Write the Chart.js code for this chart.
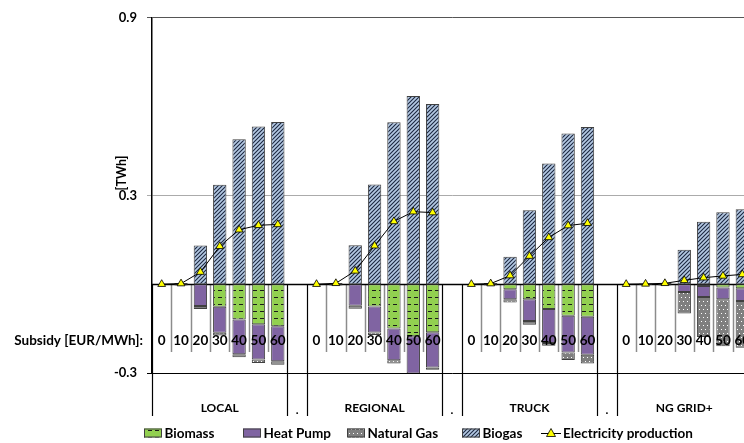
<!DOCTYPE html>
<html>
<head>
<meta charset="utf-8">
<script src="https://cdn.jsdelivr.net/npm/chart.js@4.4.1/dist/chart.umd.min.js"></script>
<style>
  html, body { margin: 0; padding: 0; background: #fff; overflow: hidden; }
  #wrap { width: 800px; height: 443px; }
</style>
</head>
<body>
<div id="wrap"><canvas id="chartBiogas" width="800" height="443"></canvas></div>
<script>
// Datos (TWh) - una fila por grupo, subsidio 0..60
const grupos = ["LOCAL", "REGIONAL", "TRUCK", "NG GRID+"];
const subsidios = ["0", "10", "20", "30", "40", "50", "60"];
const yTicks = [-0.3, 0.3, 0.9];

const biomass = [
  null, null, null, -0.076, -0.119, -0.135, -0.142,
  null, null, null, -0.075, -0.150, -0.176, -0.162,
  null, null, -0.017, -0.051, -0.084, -0.107, -0.110,
  null, null, null, null, -0.006, -0.011, -0.014,
];
const heatPump = [
  null, null, -0.074, -0.088, -0.118, -0.119, -0.118,
  null, null, -0.073, -0.088, -0.107, -0.126, -0.119,
  null, null, -0.034, -0.073, -0.115, -0.124, -0.128,
  null, null, null, -0.026, -0.037, -0.040, -0.043,
];
const naturalGas = [
  null, -0.004, -0.010, -0.009, -0.010, -0.012, -0.012,
  null, -0.004, -0.010, -0.009, -0.011, -0.010, -0.008,
  null, -0.004, -0.011, -0.013, -0.009, -0.025, -0.030,
  null, -0.003, -0.004, -0.073, -0.135, -0.159, -0.158,
];
const biogas = [
  null, 0.004, 0.131, 0.336, 0.490, 0.533, 0.548,
  null, 0.004, 0.132, 0.337, 0.547, 0.636, 0.609,
  null, 0.004, 0.093, 0.250, 0.408, 0.509, 0.531,
  null, 0.002, 0.004, 0.116, 0.211, 0.243, 0.253,
];
const electricity = [
  0, 0.002, 0.041, 0.128, 0.184, 0.199, 0.202,
  0, 0.003, 0.045, 0.130, 0.212, 0.245, 0.242,
  0, 0.002, 0.029, 0.095, 0.158, 0.198, 0.206,
  0, 0.001, 0.003, 0.013, 0.022, 0.028, 0.033,
];

// Etiquetas del eje: cada grupo + separador "."
const etiquetas = [];
grupos.forEach((g, i) => {
  etiquetas.push(...subsidios);
  if (i < grupos.length - 1) etiquetas.push(".");
});

// Inserta null en los separadores
function expandir(arr) {
  const out = [];
  grupos.forEach((g, i) => {
    out.push(...arr.slice(i * 7, i * 7 + 7));
    if (i < grupos.length - 1) out.push(null);
  });
  return out;
}

// Patrones de relleno
function patron(w, h, fondo, dibujar) {
  const c = document.createElement("canvas");
  c.width = w;
  c.height = h;
  const g = c.getContext("2d");
  g.fillStyle = fondo;
  g.fillRect(0, 0, w, h);
  dibujar(g);
  return g.createPattern(c, "repeat");
}
const ctxMain = document.getElementById("chartBiogas").getContext("2d");
const pBiomass = patron(7, 7, "#92D050", (g) => {
  g.fillStyle = "#1a1a1a";
  g.fillRect(1, 3, 4, 1);
});
const pGas = patron(8, 8, "#7f7f7f", (g) => {
  g.fillStyle = "#ffffff";
  g.fillRect(1, 1, 1, 1);
  g.fillRect(5, 1, 1, 1);
  g.fillRect(3, 5, 1, 1);
  g.fillRect(7, 5, 1, 1);
});
const pBiogas = patron(4, 4, "#B4C9E3", (g) => {
  g.strokeStyle = "#1c2740";
  g.lineWidth = 1.1;
  g.beginPath();
  g.moveTo(0, 4);
  g.lineTo(4, 0);
  g.moveTo(-1, 1);
  g.lineTo(1, -1);
  g.moveTo(3, 5);
  g.lineTo(5, 3);
  g.stroke();
});

const FUENTE = "Lato";
Chart.defaults.font.family = FUENTE;
Chart.defaults.font.weight = "bold";
Chart.defaults.color = "#000";

// Dibujos extra: separadores, eje cero, etiquetas y leyenda
const decorado = {
  id: "decorado",
  beforeDatasetsDraw(chart) {
    const { ctx, scales: { x, y } } = chart;
    const y0 = y.getPixelForValue(0);
    const w = x.getPixelForValue(1) - x.getPixelForValue(0);
    const x0 = x.getPixelForValue(0) - w / 2;
    ctx.save();
    for (let i = 0; i <= etiquetas.length; i++) {
      const px = Math.round(x0 + i * w) + 0.5;
      const esGrupo =
        i === 0 || i === etiquetas.length ||
        etiquetas[i] === "." || etiquetas[i - 1] === ".";
      ctx.beginPath();
      if (esGrupo) {
        ctx.strokeStyle = "#000";
        ctx.lineWidth = 1.2;
        ctx.moveTo(px, y0);
        ctx.lineTo(px, 416);
      } else {
        ctx.strokeStyle = "#8c8c8c";
        ctx.lineWidth = 1.5;
        ctx.moveTo(px, y0);
        ctx.lineTo(px, 352);
      }
      ctx.stroke();
    }
    ctx.beginPath();
    ctx.strokeStyle = "#000";
    ctx.lineWidth = 1.3;
    ctx.moveTo(chart.chartArea.left, Math.round(y0) + 0.5);
    ctx.lineTo(chart.chartArea.right, Math.round(y0) + 0.5);
    ctx.stroke();
    ctx.restore();
  },
  afterDraw(chart) {
    const { ctx, scales: { x } } = chart;
    ctx.save();
    ctx.fillStyle = "#000";
    ctx.textBaseline = "middle";
    // titulo eje y
    ctx.save();
    ctx.translate(122, 173);
    ctx.rotate(-Math.PI / 2);
    ctx.textAlign = "center";
    ctx.font = "bold 12.5px " + FUENTE;
    ctx.fillText("[TWh]", 0, 0);
    ctx.restore();
    // subsidios
    ctx.font = "bold 13.5px " + FUENTE;
    ctx.textAlign = "center";
    etiquetas.forEach((t, i) => {
      if (t !== ".") ctx.fillText(t, x.getPixelForValue(i), 341);
    });
    ctx.textAlign = "right";
    ctx.fillText("Subsidy [EUR/MWh]:", 143, 341);
    // grupos
    ctx.font = "bold 12px " + FUENTE;
    ctx.textAlign = "center";
    let ini = 0;
    grupos.forEach((g, i) => {
      const cx = (x.getPixelForValue(ini) + x.getPixelForValue(ini + 6)) / 2;
      ctx.fillText(g, cx, 408);
      if (i < grupos.length - 1) ctx.fillText(".", x.getPixelForValue(ini + 7), 410);
      ini += 8;
    });
    // leyenda
    const posLeyenda = [144, 243, 347, 462, 541];
    const ly = 433;
    ctx.font = "bold 13.5px " + FUENTE;
    ctx.textAlign = "left";
    chart.data.datasets.forEach((ds, i) => {
      const lx = posLeyenda[i];
      if (ds.type === "line") {
        ctx.beginPath();
        ctx.strokeStyle = "#000";
        ctx.lineWidth = 1;
        ctx.moveTo(lx, ly + 0.5);
        ctx.lineTo(lx + 20, ly + 0.5);
        ctx.stroke();
        ctx.beginPath();
        ctx.moveTo(lx + 10, ly - 4.5);
        ctx.lineTo(lx + 14.5, ly + 3.5);
        ctx.lineTo(lx + 5.5, ly + 3.5);
        ctx.closePath();
        ctx.fillStyle = "#FFFF00";
        ctx.fill();
        ctx.strokeStyle = "#000";
        ctx.lineWidth = 0.8;
        ctx.stroke();
        ctx.fillStyle = "#000";
        ctx.fillText(ds.label, lx + 22, ly + 0.5);
      } else {
        ctx.fillStyle = ds.backgroundColor;
        ctx.fillRect(lx, ly - 4.5, 18, 9);
        ctx.strokeStyle = "#404040";
        ctx.lineWidth = 1;
        ctx.strokeRect(lx + 0.5, ly - 4, 17, 8);
        ctx.fillStyle = "#000";
        ctx.fillText(ds.label, lx + 20.5, ly + 0.5);
      }
    });
    ctx.restore();
  },
};

const barra = {
  type: "bar",
  borderColor: "#404040",
  borderWidth: 1,
  borderSkipped: false,
  barPercentage: 0.69,
  categoryPercentage: 1,
  clip: 0,
};

new Chart(ctxMain, {
  data: {
    labels: etiquetas,
    datasets: [
      { ...barra, label: "Biomass", data: expandir(biomass), backgroundColor: pBiomass },
      { ...barra, label: "Heat Pump", data: expandir(heatPump), backgroundColor: "#8064A2" },
      { ...barra, label: "Natural Gas", data: expandir(naturalGas), backgroundColor: pGas },
      { ...barra, label: "Biogas", data: expandir(biogas), backgroundColor: pBiogas },
      {
        type: "line",
        label: "Electricity production",
        data: expandir(electricity),
        stack: "elec",
        order: -1,
        borderColor: "#000",
        borderWidth: 1,
        spanGaps: false,
        pointStyle: "triangle",
        pointRadius: 4.5,
        pointBackgroundColor: "#FFFF00",
        pointBorderColor: "#000",
        pointBorderWidth: 0.8,
        clip: false,
      },
    ],
  },
  options: {
    responsive: false,
    animation: false,
    events: [],
    layout: { padding: { top: 17, right: 48, bottom: 70, left: 0 } },
    plugins: { legend: { display: false }, tooltip: { enabled: false } },
    scales: {
      x: { stacked: true, display: false },
      y: {
        stacked: true,
        min: -0.3,
        max: 0.9,
        afterBuildTicks: (s) => { s.ticks = yTicks.map((v) => ({ value: v })); },
        afterFit: (s) => { s.width = 152; },
        ticks: {
          padding: 10,
          font: { size: 13, weight: "bold" },
          callback: (v) => Number(v).toFixed(1),
        },
        grid: {
          tickLength: 5,
          lineWidth: 1,
          color: (c) => (c.tick && c.tick.value === 0.3 ? "#ababab" : c.tick && c.tick.value > 0.5 ? "#555" : "#000"),
        },
        border: { color: "#000", width: 1.5 },
      },
    },
  },
  plugins: [decorado],
});
</script>
</body>
</html>
